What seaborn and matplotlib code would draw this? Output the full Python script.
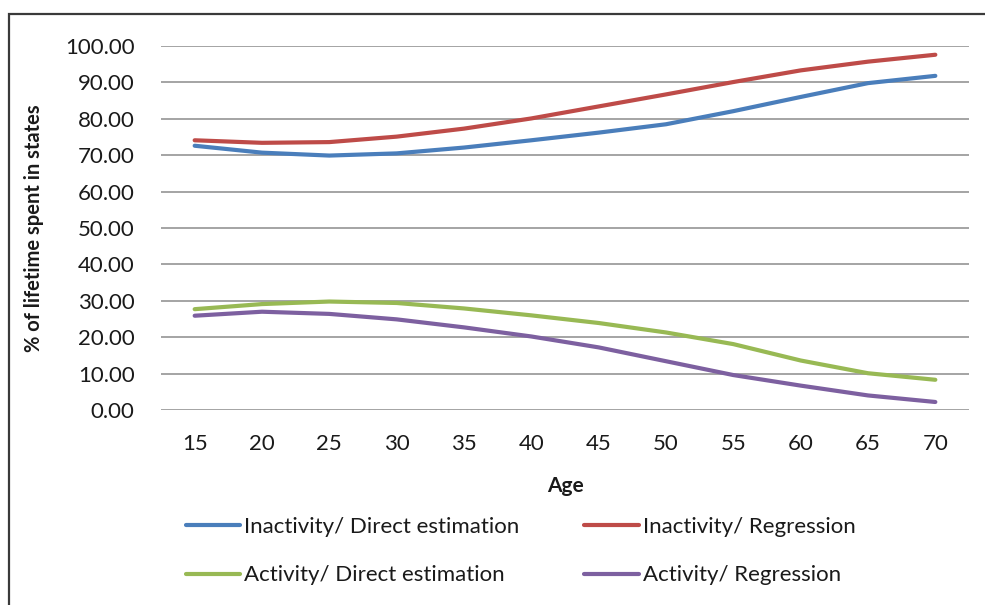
import matplotlib
matplotlib.use("Agg")
import matplotlib.pyplot as plt
from matplotlib.patches import Rectangle
import seaborn as sns
import pandas as pd

# Age groups on the horizontal axis
ages = [15, 20, 25, 30, 35, 40, 45, 50, 55, 60, 65, 70]

# Share of remaining lifetime spent in each state (%)
inactivity_direct = [72.6, 70.7, 69.9, 70.5, 72.1, 74.1, 76.2, 78.5, 82.1, 86.0, 89.8, 91.8]
inactivity_regression = [74.1, 73.4, 73.6, 75.1, 77.3, 80.1, 83.4, 86.7, 90.1, 93.3, 95.7, 97.6]
activity_direct = [27.7, 29.1, 29.8, 29.4, 27.9, 26.0, 23.9, 21.3, 18.1, 13.6, 10.1, 8.3]
activity_regression = [25.9, 27.0, 26.4, 24.9, 22.7, 20.2, 17.2, 13.4, 9.6, 6.7, 4.0, 2.2]

series_names = [
    "Inactivity/ Direct estimation",
    "Inactivity/ Regression",
    "Activity/ Direct estimation",
    "Activity/ Regression",
]
series_values = [inactivity_direct, inactivity_regression, activity_direct, activity_regression]
series_colors = ["#4A7EBB", "#BE4B48", "#98B954", "#7D60A0"]

y_ticks = [0, 10, 20, 30, 40, 50, 60, 70, 80, 90, 100]

frames = []
for name, vals in zip(series_names, series_values):
    frames.append(pd.DataFrame({"Age": ages, "value": vals, "series": name}))
df = pd.concat(frames, ignore_index=True)

sns.set_theme(style="white")
plt.rcParams["font.family"] = ["Lato", "DejaVu Sans"]

W, H = 985, 605
fig = plt.figure(figsize=(W / 100, H / 100), dpi=100)
ax = fig.add_axes([161 / W, 1 - 410 / H, (969 - 161) / W, (410 - 46) / H])

sns.lineplot(
    data=df, x="Age", y="value", hue="series", hue_order=series_names,
    palette=dict(zip(series_names, series_colors)), linewidth=3.0,
    ax=ax, legend=True, zorder=3,
)
for line in ax.get_lines():
    line.set_solid_capstyle("round")

ax.set_xlim(12.5, 72.5)
ax.set_ylim(0, 100)
ax.set_xticks(ages)
ax.set_xticklabels([str(a) for a in ages], fontsize=16, color="#1a1a1a")
ax.set_yticks(y_ticks)
ax.set_yticklabels([f"{v:.2f}" for v in y_ticks], fontsize=16, color="#1a1a1a")
ax.tick_params(axis="y", length=0, pad=19)
ax.tick_params(axis="x", length=0, pad=17)
ax.grid(axis="y", color="#8c8c8c", linewidth=1.1)
ax.grid(axis="x", visible=False)
for s in ax.spines.values():
    s.set_visible(False)

ax.set_xlabel("Age", fontsize=15, fontweight="bold", labelpad=16, color="#1a1a1a")
ax.set_ylabel("% of lifetime spent in states", fontsize=14.5, fontweight="bold",
              labelpad=15, color="#1a1a1a")

handles, labels = ax.get_legend_handles_labels()
ax.get_legend().remove()
order = [0, 2, 1, 3]
leg = fig.legend(
    [handles[i] for i in order], [labels[i] for i in order],
    ncol=2, loc="upper left", bbox_to_anchor=(166 / W, 1 - 497 / H),
    frameon=False, fontsize=16, handlelength=2.45, handletextpad=0.18,
    labelspacing=1.28, columnspacing=2.9,
)
for h in leg.legend_handles:
    h.set_linewidth(3.0)
for t in leg.get_texts():
    t.set_color("#1a1a1a")

# Chart-area border (top and left edges visible)
fig.patches.append(Rectangle((9 / W, -0.05), 1.1, 1 - 14 / H + 0.05,
                             transform=fig.transFigure, fill=False,
                             edgecolor="#3a3a3a", linewidth=1.6))

fig.savefig("out.png", dpi=100)
